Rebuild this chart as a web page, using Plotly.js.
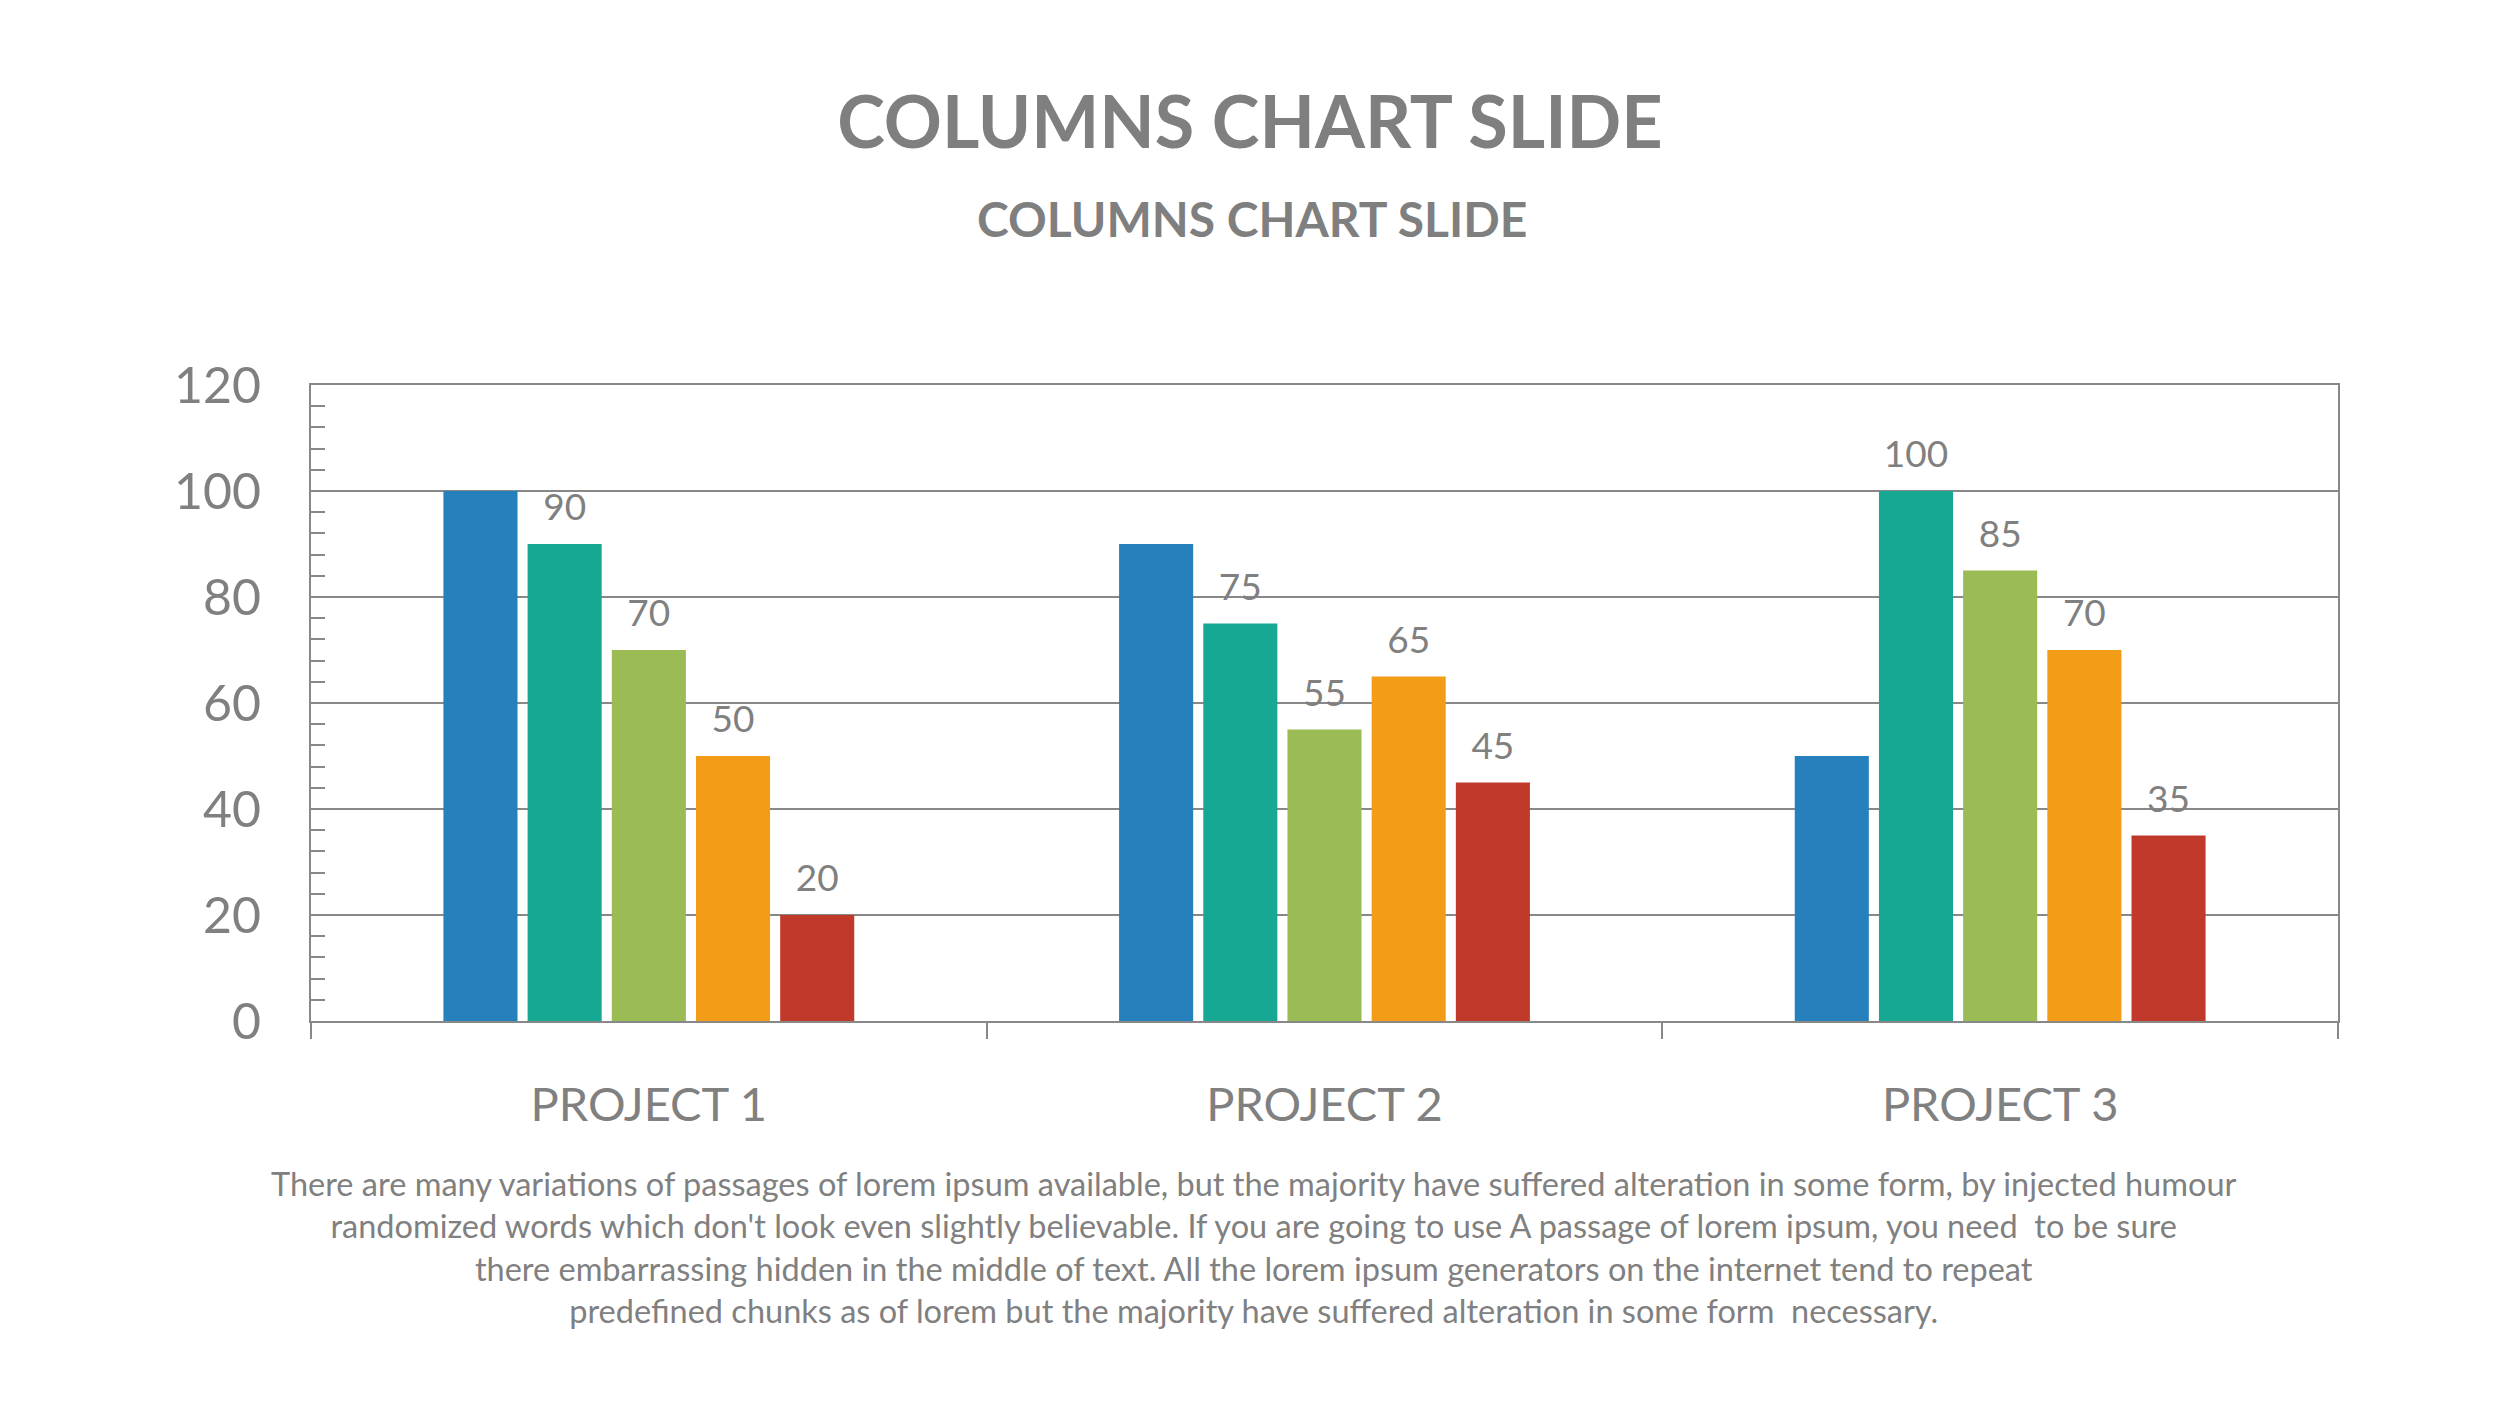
<!DOCTYPE html>
<html>
<head>
<meta charset="utf-8">
<script src="https://cdn.plot.ly/plotly-3.0.1.min.js"></script>
<style>
  html, body { margin: 0; padding: 0; background: #ffffff; }
  #chart { width: 2500px; height: 1406px; }
</style>
</head>
<body>
<div id="chart"></div>
<script>
// ---- data ----
const categories = ['PROJECT 1', 'PROJECT 2', 'PROJECT 3'];
const seriesNames = ['Series 1', 'Series 2', 'Series 3', 'Series 4', 'Series 5'];
const series1 = [100, 90, 50];
const series2 = [90, 75, 100];
const series3 = [70, 55, 85];
const series4 = [50, 65, 70];
const series5 = [20, 45, 35];
const showLabels = [false, true, true, true, true];
const yTickVals = [0, 20, 40, 60, 80, 100, 120];

const titleText = 'COLUMNS CHART SLIDE';
const subtitleText = 'COLUMNS CHART SLIDE';
const paragraphLines = [
  'There are many variations of passages of lorem ipsum available, but the majority have suffered alteration in some form, by injected humour',
  "randomized words which don't look even slightly believable. If you are going to use A passage of lorem ipsum, you need&nbsp; to be sure",
  'there embarrassing hidden in the middle of text. All the lorem ipsum generators on the internet tend to repeat',
  'predefined chunks as of lorem but the majority have suffered alteration in some form&nbsp; necessary.'
];

// ---- style ----
const colors = ['#2580BB', '#17A893', '#9BBB55', '#F29C18', '#C0392B'];
const gray = '#888888';
const textGray = '#808080';
const FONT = 'Lato, "Open Sans", sans-serif';

const allSeries = [series1, series2, series3, series4, series5];

const traces = [];
allSeries.forEach((vals, i) => {
  traces.push({
    type: 'bar',
    name: seriesNames[i],
    x: categories,
    y: vals,
    marker: { color: colors[i], line: { width: 0 } },
    hoverinfo: 'skip',
    showlegend: false
  });
});
// label traces (grouped scatter, aligned with the bars)
allSeries.forEach((vals, i) => {
  traces.push({
    type: 'scatter',
    mode: 'markers+text',
    name: seriesNames[i] + ' labels',
    x: categories,
    y: vals,
    text: showLabels[i] ? vals.map(String) : vals.map(() => ''),
    textposition: 'top center',
    textfont: { family: FONT, size: 37, color: textGray },
    marker: { size: 22, opacity: 0 },
    hoverinfo: 'skip',
    showlegend: false,
    cliponaxis: false
  });
});

const layout = {
  width: 2500,
  height: 1406,
  paper_bgcolor: '#ffffff',
  plot_bgcolor: '#ffffff',
  margin: { l: 311, r: 162, t: 385, b: 385, pad: 0 },
  barmode: 'group',
  bargap: 0.377,
  bargroupgap: 0.12,
  scattermode: 'group',
  scattergap: 0.377,
  showlegend: false,
  font: { family: FONT, color: textGray },
  title: {
    text: titleText,
    font: { family: FONT, size: 72, color: '#7F7F7F', weight: 'bold' },
    xref: 'container', x: 0.5, xanchor: 'center',
    yref: 'container', y: 1 - 123 / 1406, yanchor: 'middle'
  },
  xaxis: {
    type: 'category',
    showgrid: false,
    zeroline: false,
    showline: true,
    linecolor: gray,
    linewidth: 2,
    mirror: true,
    ticks: 'outside',
    tickson: 'boundaries',
    ticklen: 16,
    tickwidth: 2,
    tickcolor: gray,
    tickfont: { family: FONT, size: 47, color: textGray },
    ticklabelstandoff: 42,
    fixedrange: true
  },
  yaxis: {
    range: [0, 120],
    tickvals: yTickVals,
    showgrid: true,
    gridcolor: gray,
    gridwidth: 2,
    zeroline: false,
    showline: true,
    linecolor: gray,
    linewidth: 2,
    mirror: true,
    ticks: 'inside',
    ticklen: 14,
    tickwidth: 2,
    tickcolor: gray,
    minor: { dtick: 4, ticks: 'inside', ticklen: 14, tickwidth: 2, tickcolor: gray, showgrid: false },
    tickfont: { family: FONT, size: 50, color: textGray },
    ticklabelstandoff: 38,
    fixedrange: true
  },
  annotations: [
    {
      text: subtitleText,
      xref: 'paper', yref: 'paper',
      x: (1252 - 311) / 2027, y: 1 + (385 - 219) / 636,
      xanchor: 'center', yanchor: 'middle',
      showarrow: false,
      font: { family: FONT, size: 48, color: '#7F7F7F', weight: 'bold' }
    },
    {
      text: paragraphLines.join('<br>'),
      xref: 'paper', yref: 'paper',
      x: (1254 - 311) / 2027, y: 1 - (1247 - 385) / 636,
      xanchor: 'center', yanchor: 'middle',
      align: 'center',
      showarrow: false,
      font: { family: FONT, size: 32.5, color: textGray }
    }
  ]
};

Plotly.newPlot('chart', traces, layout, { staticPlot: true, displayModeBar: false });
</script>
</body>
</html>
